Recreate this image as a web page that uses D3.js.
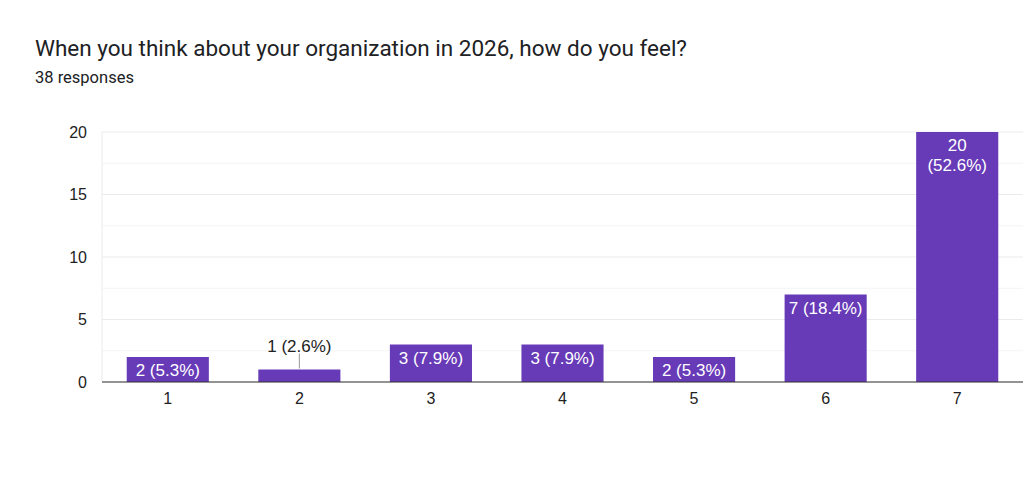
<!DOCTYPE html>
<meta charset="utf-8">
<style>
body { margin: 0; background: #fff; }
text { font-family: "Liberation Sans", Arial, sans-serif; }
.axis--y path, .axis--y line { display: none; }
.axis--x path, .axis--x line { display: none; }
</style>
<svg width="1024" height="487"></svg>
<script src="https://d3js.org/d3.v7.min.js"></script>
<script>

var categories = ["1", "2", "3", "4", "5", "6", "7"];
var counts = [2, 1, 3, 3, 2, 7, 20];
var percents = ["5.3%", "2.6%", "7.9%", "7.9%", "5.3%", "18.4%", "52.6%"];
var yTicks = [0, 5, 10, 15, 20];
var title = "When you think about your organization in 2026, how do you feel?";
var subtitle = "38 responses";

var font = '"Liberation Sans", Arial, sans-serif';

var svg = d3.select("svg"),
    margin = {top: 132, right: 1, bottom: 105, left: 102},
    width = svg.attr("width") - margin.left - margin.right,
    height = svg.attr("height") - margin.top - margin.bottom,
    g = svg.append("g").attr("transform", "translate(" + margin.left + "," + margin.top + ")");

svg.append("text")
    .attr("x", 35)
    .attr("y", 56)
    .style("font-family", "Roboto, sans-serif")
    .style("font-size", "22.5px")
    .attr("fill", "#202124")
    .text(title);

svg.append("text")
    .attr("x", 35)
    .attr("y", 83)
    .style("font-family", "Roboto, sans-serif")
    .style("font-size", "16.5px")
    .attr("fill", "#202124")
    .text(subtitle);

var x = d3.scaleBand().domain(categories).range([0, width]).paddingInner(0.376).paddingOuter(0.188),
    y = d3.scaleLinear().domain([0, 20]).range([height, 0]);

// gridlines (minor at every 2.5)
g.selectAll(".grid")
  .data(d3.range(0, 20.01, 2.5))
  .enter().append("line")
    .attr("class", "grid")
    .attr("x1", 0)
    .attr("x2", width)
    .attr("y1", function(d) { return y(d); })
    .attr("y2", function(d) { return y(d); })
    .attr("stroke", function(d) { return d % 5 === 0 ? "#ebebeb" : "#f4f4f4"; })
    .attr("stroke-width", 1);

g.append("line")
    .attr("x1", 0).attr("x2", 0)
    .attr("y1", 0).attr("y2", height)
    .attr("stroke", "#ebebeb");

g.append("g")
    .attr("class", "axis axis--y")
    .call(d3.axisLeft(y).tickValues(yTicks).tickSize(0).tickPadding(15))
  .selectAll("text")
    .style("font-size", "16px")
    .style("font-family", font)
    .attr("fill", "#222");

g.append("g")
    .attr("class", "axis axis--x")
    .attr("transform", "translate(0," + height + ")")
    .call(d3.axisBottom(x).tickSize(0).tickPadding(11))
  .selectAll("text")
    .style("font-size", "16px")
    .style("font-family", font)
    .attr("fill", "#222");

var data = categories.map(function(c, i) { return {cat: c, value: counts[i], pct: percents[i]}; });

g.selectAll(".bar")
  .data(data)
  .enter().append("rect")
    .attr("class", "bar")
    .attr("x", function(d) { return x(d.cat); })
    .attr("y", function(d) { return y(d.value); })
    .attr("width", x.bandwidth())
    .attr("height", function(d) { return height - y(d.value); })
    .attr("fill", "#673ab7");

// baseline
g.append("line")
    .attr("x1", 0).attr("x2", width)
    .attr("y1", height).attr("y2", height)
    .attr("stroke", "#333").attr("stroke-width", 1.2);

// value labels
data.forEach(function(d) {
  var cx = x(d.cat) + x.bandwidth() / 2;
  var label = d.value + " (" + d.pct + ")";
  var barH = height - y(d.value);
  if (barH < 20) {
    g.append("line")
        .attr("x1", cx).attr("x2", cx)
        .attr("y1", y(d.value) - 1).attr("y2", y(d.value) - 16)
        .attr("stroke", "#999");
    g.append("text")
        .attr("x", cx)
        .attr("y", y(d.value) - 18)
        .attr("text-anchor", "middle")
        .style("font-size", "17px")
        .attr("fill", "#222")
        .text(label);
  } else if (label.length <= 9) {
    g.append("text")
        .attr("x", cx)
        .attr("y", y(d.value) + 19)
        .attr("text-anchor", "middle")
        .style("font-size", "17px")
        .attr("fill", "#fff")
        .text(label);
  } else {
    var t = g.append("text")
        .attr("x", cx)
        .attr("y", y(d.value) + 19)
        .attr("text-anchor", "middle")
        .style("font-size", "17px")
        .attr("fill", "#fff");
    t.append("tspan").attr("x", cx).text(d.value);
    t.append("tspan").attr("x", cx).attr("dy", 20).text("(" + d.pct + ")");
  }
});

</script>
